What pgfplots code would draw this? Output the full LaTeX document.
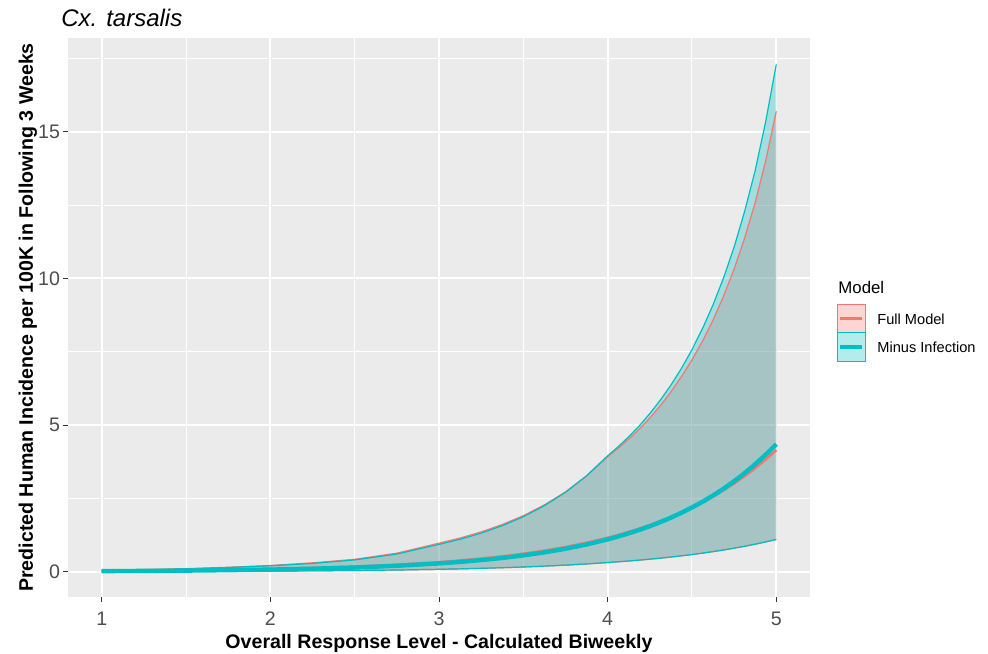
\documentclass[border=0pt]{standalone}
\usepackage{pgfplots}
\pgfplotsset{compat=1.18}
\usepackage{pgfplotstable}
\usepgfplotslibrary{fillbetween}
\usepackage{fontspec}
\setmainfont{Liberation Sans}
\definecolor{fullc}{HTML}{F8766D}
\definecolor{minc}{HTML}{00BFC4}
\definecolor{panelbg}{HTML}{EBEBEB}
\definecolor{tickc}{HTML}{4D4D4D}
\definecolor{tickm}{HTML}{333333}

\pgfplotstableread{
x      fu     fl     fm     mu     ml     mm
1.0    0.05   0.005  0.025  0.045  0.005  0.018
1.25   0.07   0.007  0.034  0.065  0.007  0.025
1.5    0.10   0.010  0.047  0.095  0.010  0.035
1.75   0.15   0.014  0.065  0.14   0.014  0.050
2.0    0.21   0.020  0.089  0.20   0.020  0.070
2.25   0.30   0.028  0.122  0.28   0.028  0.100
2.5    0.42   0.040  0.169  0.40   0.040  0.140
2.75   0.63   0.055  0.232  0.60   0.055  0.200
3.0    0.970  0.080  0.320  0.930  0.080  0.280
3.125  1.146  0.095  0.376  1.104  0.095  0.332
3.25   1.354  0.113  0.441  1.313  0.113  0.394
3.375  1.606  0.134  0.517  1.567  0.134  0.467
3.5    1.908  0.158  0.607  1.872  0.158  0.554
3.625  2.275  0.188  0.712  2.250  0.188  0.657
3.75   2.718  0.222  0.836  2.705  0.222  0.780
3.875  3.261  0.263  0.981  3.271  0.263  0.926
4.0    3.92   0.310  1.150  3.95   0.310  1.100
4.0625 4.21   0.336  1.246  4.26   0.336  1.199
4.125  4.52   0.363  1.350  4.60   0.363  1.306
4.1875 4.86   0.393  1.463  4.97   0.393  1.423
4.25   5.24   0.425  1.585  5.39   0.425  1.551
4.3125 5.66   0.460  1.717  5.85   0.460  1.690
4.375  6.13   0.498  1.861  6.36   0.498  1.842
4.4375 6.65   0.539  2.016  6.93   0.539  2.007
4.5    7.22   0.583  2.185  7.57   0.583  2.187
4.5625 7.86   0.631  2.367  8.29   0.631  2.383
4.625  8.58   0.683  2.565  9.10   0.683  2.597
4.6875 9.40   0.739  2.779  10.02  0.739  2.830
4.75   10.32  0.800  3.011  11.07  0.800  3.084
4.8125 11.38  0.866  3.263  12.29  0.866  3.361
4.875  12.59  0.937  3.535  13.68  0.937  3.662
4.9375 14.02  1.014  3.831  15.36  1.014  3.991
5.0    15.70  1.097  4.150  17.30  1.097  4.349
}\data

\begin{document}
\begin{tikzpicture}
\begin{axis}[
  at={(0,0)}, anchor=south west,
  width=371pt, height=279.5pt, scale only axis,
  xmin=0.8, xmax=5.2, ymin=-0.865, ymax=18.2,
  axis line style={draw=none},
  axis background/.style={fill=panelbg},
  xtick={1,2,3,4,5}, ytick={0,5,10,15},
  minor xtick={1.5,2.5,3.5,4.5}, minor ytick={2.5,7.5,12.5,17.5},
  grid=both,
  major grid style={white, line width=1pt},
  minor grid style={white, line width=0.5pt},
  tick pos=left,
  tick align=outside,
  major tick length=2.5pt, minor tick length=0pt,
  tick style={tickm, line width=0.5pt},
  ticklabel style={font=\fontsize{9.8}{11}\selectfont, text=tickc},
  xticklabel style={yshift=-1.5pt},
  yticklabel style={xshift=2pt},
  /pgf/number format/assume math mode=true,
  xlabel={Overall Response Level - Calculated Biweekly},
  ylabel={Predicted Human Incidence per 100K in Following 3 Weeks},
  xlabel style={font=\bfseries\fontsize{9.8}{12}\selectfont, at={(axis description cs:0.5,-0.0930)}, anchor=base},
  ylabel style={font=\bfseries\fontsize{9.8}{12}\selectfont, at={(axis description cs:-0.0472,0.5)}, anchor=base},
]
\addplot[draw=none, name path=fu] table[x=x,y=fu]{\data};
\addplot[draw=none, name path=fl] table[x=x,y=fl]{\data};
\addplot[draw=none, name path=mu] table[x=x,y=mu]{\data};
\addplot[draw=none, name path=ml] table[x=x,y=ml]{\data};
\addplot[fill=fullc, fill opacity=0.3, draw=none] fill between[of=fu and fl];
\addplot[fill=minc, fill opacity=0.3, draw=none] fill between[of=mu and ml];
\addplot[fullc, line width=0.6pt] table[x=x,y=fu]{\data};
\addplot[fullc, line width=0.6pt] table[x=x,y=fl]{\data};
\addplot[minc, line width=0.6pt] table[x=x,y=mu]{\data};
\addplot[minc, line width=0.6pt] table[x=x,y=ml]{\data};
\addplot[fullc, line width=1.4pt] table[x=x,y=fm]{\data};
\addplot[minc, line width=2.2pt] table[x=x,y=mm]{\data};
\end{axis}
\node[anchor=base west, font=\itshape\fontsize{12}{14}\selectfont, inner sep=0pt] at (-3.5pt,285pt) {Cx. tarsalis};
\node[anchor=base west, font=\fontsize{8.4}{10}\selectfont, inner sep=0pt] at (385pt,151.5pt) {Model};
\fill[fullc!30!white] (384.5pt,132pt) rectangle (398.5pt,146pt);
\draw[fullc, line width=0.5pt] (384.5pt,132pt) rectangle (398.5pt,146pt);
\draw[fullc, line width=1.5pt] (386pt,139pt) -- (397pt,139pt);
\node[anchor=west, font=\fontsize{7.3}{9}\selectfont, inner sep=0pt] at (404.5pt,139pt) {Full Model};
\fill[minc!30!white] (384.5pt,118pt) rectangle (398.5pt,132pt);
\draw[minc, line width=0.5pt] (384.5pt,118pt) rectangle (398.5pt,132pt);
\draw[minc, line width=2pt] (386pt,125pt) -- (397pt,125pt);
\node[anchor=west, font=\fontsize{7.3}{9}\selectfont, inner sep=0pt] at (404.5pt,125pt) {Minus Infection};
\pgfresetboundingbox
\path[use as bounding box] (-34pt,-28pt) rectangle (460pt,298.5pt);
\end{tikzpicture}
\end{document}
